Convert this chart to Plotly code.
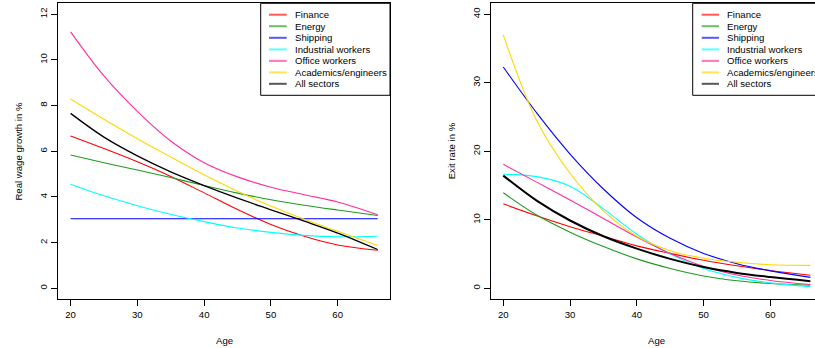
import plotly.graph_objects as go

# ---------------- data ----------------
ages = [20, 25, 30, 35, 40, 45, 50, 55, 60, 66]
series_names = ["Finance", "Energy", "Shipping", "Industrial workers",
                "Office workers", "Academics/engineers", "All sectors"]
colors = ["#FF0000", "#1E9A1E", "#0000FF", "#00FFFF", "#FF2D9B", "#FFD700", "#000000"]

# Real wage growth in % (left panel)
wage_finance = [6.67, 6.12, 5.54, 4.90, 4.18, 3.45, 2.80, 2.28, 1.90, 1.67]
wage_energy = [5.84, 5.50, 5.18, 4.85, 4.50, 4.17, 3.88, 3.64, 3.43, 3.19]
wage_shipping = [3.05, 3.05, 3.05, 3.05, 3.05, 3.05, 3.05, 3.05, 3.05, 3.05]
wage_industrial = [4.56, 4.05, 3.62, 3.24, 2.92, 2.64, 2.45, 2.32, 2.26, 2.28]
wage_office = [11.23, 9.30, 7.75, 6.45, 5.50, 4.88, 4.43, 4.10, 3.78, 3.22]
wage_academics = [8.29, 7.40, 6.55, 5.75, 4.97, 4.25, 3.60, 3.02, 2.50, 1.88]
wage_all = [7.66, 6.62, 5.80, 5.10, 4.50, 3.95, 3.44, 2.94, 2.42, 1.70]

# Exit rate in % (right panel)
exit_finance = [12.33, 10.60, 9.00, 7.60, 6.20, 5.10, 4.10, 3.30, 2.60, 1.90]
exit_energy = [13.95, 10.70, 8.20, 6.10, 4.30, 2.90, 1.80, 1.10, 0.70, 0.45]
exit_shipping = [32.3, 25.6, 19.6, 14.5, 10.3, 7.3, 5.1, 3.6, 2.55, 1.6]
exit_industrial = [16.65, 16.30, 14.90, 11.60, 7.90, 5.00, 2.90, 1.60, 0.80, 0.25]
exit_office = [18.10, 15.50, 12.90, 10.20, 7.50, 5.10, 3.20, 1.95, 1.15, 0.55]
exit_academics = [37.0, 24.5, 16.8, 11.3, 7.6, 5.5, 4.4, 3.8, 3.45, 3.35]
exit_all = [16.45, 12.80, 9.90, 7.60, 5.80, 4.30, 3.10, 2.25, 1.65, 1.05]

x_ticks = [20, 30, 40, 50, 60]
wage_ticks = [0, 2, 4, 6, 8, 10, 12]
exit_ticks = [0, 10, 20, 30, 40]

wage_series = [wage_finance, wage_energy, wage_shipping, wage_industrial,
               wage_office, wage_academics, wage_all]
exit_series = [exit_finance, exit_energy, exit_shipping, exit_industrial,
               exit_office, exit_academics, exit_all]

# ---------------- layout geometry (pixels) ----------------
W, H = 815, 348
FONT = "Liberation Sans, Arial, Helvetica, sans-serif"
FS = 9.6

def px(x):
    return x / W

def py(y):
    return 1 - y / H

L_x0, L_x1 = 58.3, 390.0
R_x0 = 491.0
P_top, P_bot = 3.3, 299.3

fig = go.Figure()

for i, name in enumerate(series_names):
    lw = 1.3 if name == "All sectors" else 1.1
    fig.add_trace(go.Scatter(x=ages, y=wage_series[i], mode="lines", name=name,
                             line=dict(color=colors[i], width=lw, shape="spline", smoothing=1.0),
                             xaxis="x", yaxis="y", showlegend=False))
for i, name in enumerate(series_names):
    lw = 2.0 if name == "All sectors" else 1.1
    fig.add_trace(go.Scatter(x=ages, y=exit_series[i], mode="lines", name=name,
                             line=dict(color=colors[i], width=lw, shape="spline", smoothing=1.0),
                             xaxis="x2", yaxis="y2", showlegend=False))

axis_common = dict(showgrid=False, zeroline=False, showline=True, linecolor="black",
                   linewidth=1, ticks="outside", ticklen=6, tickcolor="black", tickwidth=1,
                   tickfont=dict(family=FONT, size=FS, color="black"))

ydom = [py(P_bot), py(P_top)]
fig.update_layout(
    width=W, height=H, margin=dict(l=0, r=0, t=0, b=0),
    paper_bgcolor="white", plot_bgcolor="white", showlegend=False,
    xaxis=dict(domain=[px(L_x0), px(L_x1)], range=[18.16, 67.84], tickvals=x_ticks,
               mirror=True, anchor="y", **axis_common),
    yaxis=dict(domain=ydom, range=[-0.48, 12.48], tickvals=wage_ticks, tickangle=-90,
               mirror=True, anchor="x", **axis_common),
    xaxis2=dict(domain=[px(R_x0), 1.0], range=[18.16, 66.69], tickvals=x_ticks,
                mirror=True, anchor="y2", **axis_common),
    yaxis2=dict(domain=ydom, range=[-1.6, 41.6], tickvals=exit_ticks, tickangle=-90,
                mirror=False, anchor="x2", **axis_common),
)

annotations = []
shapes = []
tfont = dict(family=FONT, size=FS, color="black")

# axis titles
annotations.append(dict(text="Age", xref="x", x=43, yref="paper", y=py(340.7),
                        xanchor="center", yanchor="middle", showarrow=False, font=tfont))
annotations.append(dict(text="Age", xref="x2", x=43, yref="paper", y=py(340.7),
                        xanchor="center", yanchor="middle", showarrow=False, font=tfont))
annotations.append(dict(text="Real wage growth in %", xref="paper", x=px(18.3), yref="y", y=6,
                        xanchor="center", yanchor="middle", textangle=-90, showarrow=False, font=tfont))
annotations.append(dict(text="Exit rate in %", xref="paper", x=px(451), yref="y2", y=20,
                        xanchor="center", yanchor="middle", textangle=-90, showarrow=False, font=tfont))

# manual legends
row_y = [14.7, 26.2, 37.8, 49.4, 60.9, 72.4, 83.8]
for (bx0, bx1, lx0, lx1, tx) in [(260.7, 390.0, 269.0, 286.7, 295.0),
                                  (692.7, 840.0, 701.7, 719.0, 727.3)]:
    shapes.append(dict(type="rect", xref="paper", yref="paper", x0=px(bx0), x1=px(bx1),
                       y0=py(95.3), y1=py(P_top), line=dict(color="black", width=1),
                       fillcolor="white", layer="above"))
    for i, name in enumerate(series_names):
        shapes.append(dict(type="line", xref="paper", yref="paper", x0=px(lx0), x1=px(lx1),
                           y0=py(row_y[i]), y1=py(row_y[i]), opacity=0.65,
                           line=dict(color=colors[i], width=2), layer="above"))
        annotations.append(dict(text=name, xref="paper", x=px(tx - 2), yref="paper", y=py(row_y[i]),
                                xanchor="left", yanchor="middle", showarrow=False, font=tfont))

fig.update_layout(annotations=annotations, shapes=shapes)
fig.write_html("out.html")
